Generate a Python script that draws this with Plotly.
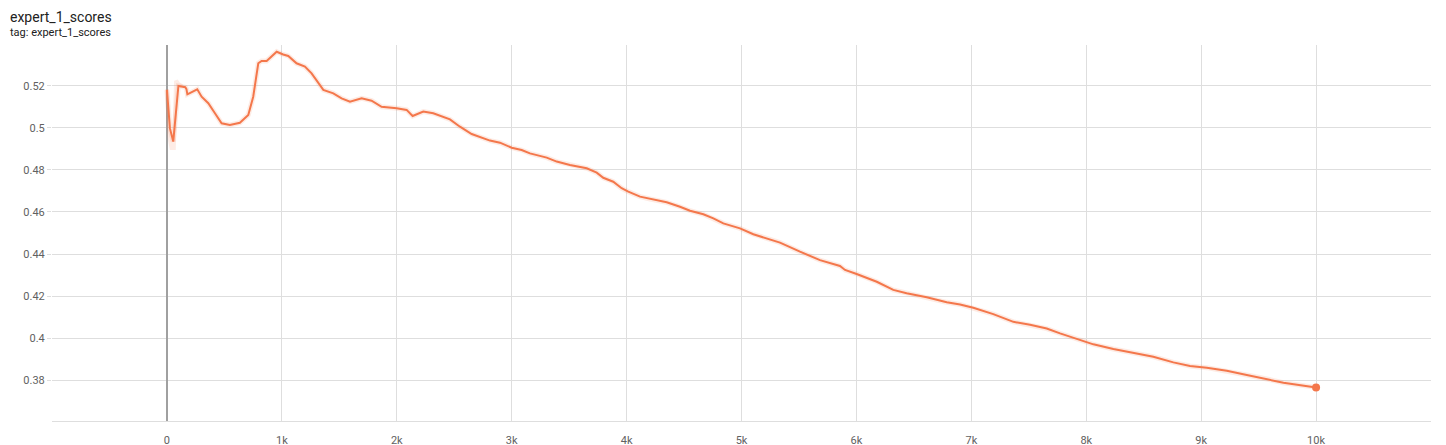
import plotly.graph_objects as go

# ---- data ----
steps = [0, 26, 55, 100, 160, 170, 178, 264, 302, 360, 418, 476, 548, 635, 708, 751,
         795, 824, 868, 955, 1012, 1056, 1128, 1201, 1259, 1302, 1361, 1448, 1520,
         1593, 1694, 1781, 1868, 1999, 2086, 2138, 2231, 2318, 2463, 2550, 2652,
         2811, 2898, 3000, 3087, 3159, 3305, 3392, 3507, 3653, 3740, 3797, 3884,
         3957, 4015, 4117, 4204, 4349, 4465, 4552, 4668, 4755, 4842, 4987, 5103,
         5248, 5335, 5509, 5683, 5857, 5901, 6002, 6177, 6321, 6437, 6612, 6786,
         6902, 7017, 7191, 7366, 7511, 7656, 7772, 7946, 8062, 8236, 8440, 8584,
         8758, 8903, 9049, 9223, 9397, 9571, 9716, 10000]
scores = [0.5181, 0.4999, 0.4935, 0.5200, 0.5194, 0.5185, 0.5160, 0.5184, 0.5149,
          0.5118, 0.5070, 0.5022, 0.5014, 0.5025, 0.5062, 0.5149, 0.5308, 0.5319,
          0.5319, 0.5363, 0.5350, 0.5343, 0.5308, 0.5292, 0.5260, 0.5229, 0.5181,
          0.5165, 0.5141, 0.5125, 0.5141, 0.5130, 0.5101, 0.5094, 0.5086, 0.5057,
          0.5078, 0.5070, 0.5041, 0.5006, 0.4971, 0.4940, 0.4930, 0.4906, 0.4895,
          0.4879, 0.4859, 0.4840, 0.4824, 0.4808, 0.4787, 0.4763, 0.4744, 0.4713,
          0.4697, 0.4673, 0.4662, 0.4646, 0.4625, 0.4606, 0.4589, 0.4570, 0.4546,
          0.4522, 0.4494, 0.4470, 0.4454, 0.4411, 0.4371, 0.4343, 0.4324, 0.4305,
          0.4268, 0.4229, 0.4213, 0.4194, 0.4170, 0.4160, 0.4144, 0.4114, 0.4077,
          0.4063, 0.4045, 0.4022, 0.3990, 0.3970, 0.3948, 0.3927, 0.3911, 0.3884,
          0.3867, 0.3859, 0.3844, 0.3824, 0.3805, 0.3787, 0.3765]

# faint raw values visible around the start
raw_steps = [0, 20, 40, 60, 80, 100, 130]
raw_scores = [0.5185, 0.4965, 0.4905, 0.4905, 0.5225, 0.5210, 0.5200]

x_tickvals = [-1000, 0, 1000, 2000, 3000, 4000, 5000, 6000, 7000, 8000, 9000, 10000, 11000]
x_ticktext = ["", "0", "1k", "2k", "3k", "4k", "5k", "6k", "7k", "8k", "9k", "10k", ""]
y_tickvals = [0.38, 0.40, 0.42, 0.44, 0.46, 0.48, 0.50, 0.52]
y_ticktext = ["0.38", "0.4", "0.42", "0.44", "0.46", "0.48", "0.5", "0.52"]

LINE = "#f4774b"

fig = go.Figure()
fig.add_trace(go.Scatter(x=raw_steps, y=raw_scores, mode="lines",
                         line=dict(color="rgba(244,119,75,0.14)", width=4),
                         hoverinfo="skip", showlegend=False))
fig.add_trace(go.Scatter(x=steps, y=scores, mode="lines",
                         line=dict(color="rgba(244,119,75,0.15)", width=5),
                         hoverinfo="skip", showlegend=False))
fig.add_trace(go.Scatter(x=steps, y=scores, mode="lines",
                         line=dict(color=LINE, width=2),
                         showlegend=False))
fig.add_trace(go.Scatter(x=steps[-1:], y=scores[-1:], mode="markers",
                         marker=dict(color=LINE, size=8),
                         showlegend=False))

# the page places the figure 8px from the top-left corner
fig.update_layout(
    width=1446, height=445,
    margin=dict(l=44, r=23, t=37, b=32),
    paper_bgcolor="white", plot_bgcolor="white",
    font=dict(family="Roboto, sans-serif", size=11, color="#616161"),
    xaxis=dict(range=[-1000, 11000], tickvals=x_tickvals, ticktext=x_ticktext,
               showgrid=True, gridcolor="#dedede", gridwidth=1,
               zeroline=True, zerolinecolor="#a0a0a0", zerolinewidth=1.5,
               showline=True, linecolor="#dedede", linewidth=1,
               ticks="", ticklabelstandoff=9, automargin=False),
    yaxis=dict(range=[0.3605, 0.5395], tickvals=y_tickvals, ticktext=y_ticktext,
               showgrid=True, gridcolor="#dedede", gridwidth=1,
               zeroline=False, showline=False, automargin=False,
               ticks="outside", ticklen=4, tickcolor="#dedede"),
    annotations=[
        dict(text="expert_1_scores", xref="paper", yref="paper",
             x=-44 / 1379, y=1 + 28 / 376, xanchor="left", yanchor="middle",
             showarrow=False, font=dict(size=14, color="#212121")),
        dict(text="tag: expert_1_scores", xref="paper", yref="paper",
             x=-44 / 1379, y=1 + 13 / 376, xanchor="left", yanchor="middle",
             showarrow=False, font=dict(size=11, color="#212121")),
    ],
)

fig.write_html("out.html")
